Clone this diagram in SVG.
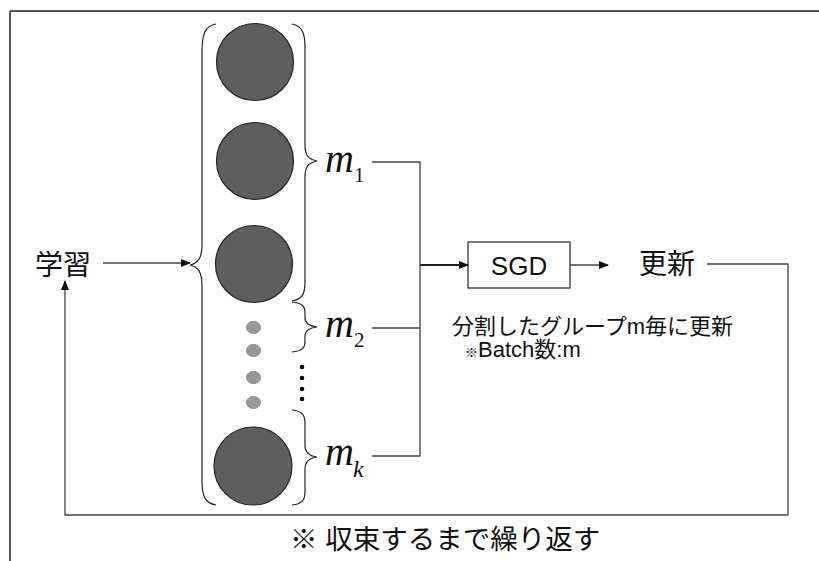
<svg xmlns="http://www.w3.org/2000/svg" width="819" height="561" viewBox="0 0 819 561">
<defs>
<marker id="ah" markerWidth="10" markerHeight="8" refX="9" refY="4" orient="auto" markerUnits="userSpaceOnUse">
<path d="M0,0 L10,4 L0,8 Z" fill="#111"/>
</marker>
<style>
.ln{fill:none;stroke:#444;stroke-width:1.3}
.br{fill:none;stroke:#222;stroke-width:1.2}
.big{fill:#5e5e5e;stroke:#222;stroke-width:1.2}
.sm{fill:#999;stroke:#888;stroke-width:1}
.jp{font-family:"Liberation Sans","Noto Sans CJK JP",sans-serif;fill:#111}
.mi{font-family:"Liberation Serif",serif;font-style:italic;font-size:40px;fill:#111}
.sub{font-family:"Liberation Serif",serif;font-size:21px;fill:#111}
.subk{font-family:"Liberation Serif",serif;font-style:italic;font-size:24px;fill:#111}
</style>
</defs>
<rect width="819" height="561" fill="#fff"/>
<g id="frame">
<line x1="10" y1="11" x2="819" y2="11" stroke="#555" stroke-width="1.8"/>
<line x1="10" y1="11" x2="10" y2="561" stroke="#222" stroke-width="1.5"/>
</g>
<g id="gakushu"><text class="jp" x="35" y="275" font-size="28">学習</text></g>
<g id="samples">
<circle class="big" cx="255" cy="62" r="38.5"/>
<circle class="big" cx="255" cy="161" r="38.5"/>
<circle class="big" cx="254" cy="264" r="38.5"/>
<circle class="big" cx="253" cy="466" r="39"/>
<ellipse class="sm" cx="253.5" cy="327.5" rx="7" ry="6"/>
<ellipse class="sm" cx="253.5" cy="350.5" rx="7" ry="6"/>
<ellipse class="sm" cx="253.5" cy="377.5" rx="7" ry="6"/>
<ellipse class="sm" cx="253.5" cy="402.5" rx="7" ry="6"/>
<circle cx="302" cy="367" r="2.3" fill="#000"/>
<circle cx="302" cy="378" r="2.3" fill="#000"/>
<circle cx="302" cy="389" r="2.3" fill="#000"/>
<circle cx="302" cy="399" r="2.3" fill="#000"/>
<path class="br" d="M216,24 C205,26 202,34 202,52 L202,245 C202,258 198,263 190,265 C198,267 202,272 202,285 L202,480 C202,497 205,503 216,505"/>
<path class="br" d="M292,24 C302,26 305,33 305,47 L305,145 C305,155 308,159 317,161 C308,163 305,167 305,177 L305,282 C305,295 302,299 292,301"/>
<path class="br" d="M292,302 C302,303 305,306 305,313 L305,318 C305,323 309,326 317,327 C309,328 305,331 305,336 L305,342 C305,348 302,351 292,352"/>
<path class="br" d="M292,410 C302,411 305,415 305,423 L305,445 C305,452 309,456 317,457 C309,458 305,462 305,469 L305,492 C305,500 302,504 292,505"/>
</g>
<g id="m1"><text class="mi" x="325" y="172">m</text><text class="sub" x="354" y="182">1</text></g>
<g id="m2"><text class="mi" x="325" y="337">m</text><text class="sub" x="354" y="347">2</text></g>
<g id="mk"><text class="mi" x="325" y="465">m</text><text class="subk" x="353" y="477">k</text></g>
<g id="sgd">
<rect x="468" y="242" width="102" height="46" fill="#fff" stroke="#333" stroke-width="1.3"/>
<text x="519" y="275" font-family="Liberation Sans,sans-serif" font-size="26" text-anchor="middle" fill="#111">SGD</text>
</g>
<g id="koushin"><text class="jp" x="639" y="274" font-size="28">更新</text></g>
<g id="note">
<text class="jp" x="452" y="334" font-size="22">分割したグループm毎に更新</text>
<text class="jp" x="465" y="357" font-size="22"><tspan font-size="13">※</tspan>Batch数:m</text>
</g>
<g id="footer"><text class="jp" x="290" y="549" font-size="27.5">※ 収束するまで繰り返す</text></g>
<g id="connectors">
<line class="ln" x1="103" y1="263" x2="190" y2="263" marker-end="url(#ah)"/>
<polyline class="ln" points="372,162 420,162 420,456 372,456"/>
<line class="ln" x1="372" y1="328" x2="420" y2="328"/>
<line class="ln" x1="420" y1="265" x2="468" y2="265" style="stroke:#222;stroke-width:1.8" marker-end="url(#ah)"/>
<line class="ln" x1="570" y1="265" x2="608" y2="265" marker-end="url(#ah)"/>
<polyline class="ln" points="707,264 788,264 788,515 65,515 65,281" marker-end="url(#ah)"/>
</g>
</svg>
